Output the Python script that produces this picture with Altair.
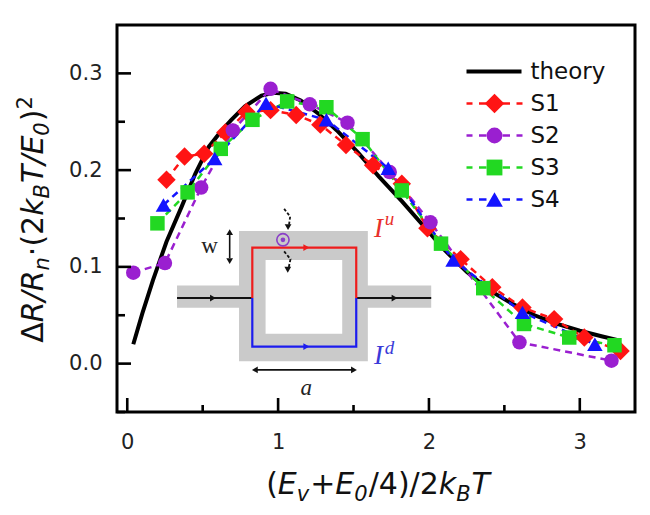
import altair as alt
import pandas as pd

# ---------------- data ----------------
theory_x = [0.04, 0.10, 0.17, 0.26, 0.36, 0.45, 0.54, 0.62, 0.69, 0.78, 0.89, 0.97, 1.05, 1.15,
            1.27, 1.39, 1.53, 1.67, 1.82, 1.96, 2.10, 2.25, 2.40, 2.55, 2.70, 2.85, 3.00, 3.15, 3.26]
theory_y = [0.020, 0.052, 0.086, 0.126, 0.162, 0.196, 0.224, 0.240, 0.252, 0.266, 0.277, 0.280, 0.279, 0.272,
            0.258, 0.241, 0.218, 0.193, 0.168, 0.143, 0.118, 0.095, 0.076, 0.062, 0.050, 0.041, 0.034, 0.028, 0.024]

s1_x = [0.26, 0.38, 0.51, 0.65, 0.79, 0.95, 1.12, 1.28, 1.45, 1.63, 1.82, 1.99, 2.21, 2.42, 2.62, 2.83, 3.03, 3.27]
s1_y = [0.190, 0.214, 0.217, 0.239, 0.260, 0.262, 0.257, 0.247, 0.226, 0.205, 0.186, 0.140, 0.108, 0.079, 0.058, 0.046, 0.027, 0.013]

s2_x = [0.04, 0.25, 0.49, 0.70, 0.95, 1.21, 1.46, 1.74, 2.01, 2.60, 3.21]
s2_y = [0.094, 0.104, 0.182, 0.241, 0.284, 0.268, 0.249, 0.198, 0.146, 0.022, 0.003]

s3_x = [0.20, 0.40, 0.62, 0.83, 1.06, 1.32, 1.56, 1.82, 2.08, 2.36, 2.63, 2.93, 3.23]
s3_y = [0.145, 0.177, 0.222, 0.252, 0.271, 0.265, 0.232, 0.179, 0.124, 0.078, 0.041, 0.027, 0.019]

s4_x = [0.24, 0.58, 0.92, 1.32, 1.73, 2.16, 2.62, 3.10]
s4_y = [0.164, 0.212, 0.269, 0.252, 0.202, 0.107, 0.053, 0.020]

series_names = ["theory", "S1", "S2", "S3", "S4"]
series_colors = ["#000000", "#ff1414", "#9a1fd0", "#22d822", "#1414ff"]
marker_shapes = ["diamond", "circle", "square", "triangle-up"]
marker_sizes = [340, 210, 210, 240]

x_ticks_major = [0, 1, 2, 3]
x_ticks_minor = [0.5, 1.5, 2.5]
y_ticks_major = [0.0, 0.1, 0.2, 0.3]
y_ticks_minor = [-0.05, 0.05, 0.15, 0.25]

# inset sketch (in data units of the main axes)
inset_band = [0.330, 2.015, 0.0577, 0.0807]
inset_outer = [0.741, 1.595, 0.0024, 0.137]
inset_inner = [0.917, 1.425, 0.031, 0.107]
red_path_x = [0.829, 0.829, 1.518, 1.518]
red_path_y = [0.0678, 0.120, 0.120, 0.0678]
blue_path_x = [0.829, 0.829, 1.518, 1.518]
blue_path_y = [0.0678, 0.0176, 0.0176, 0.0678]
lead_left_x = [0.330, 0.829]
lead_right_x = [1.518, 2.015]
lead_y = 0.0678

# ---------------- frames ----------------
W_PLOT, H_PLOT = 518, 387
xs = alt.Scale(domain=[-0.068, 3.366], nice=False, zero=False)
ys = alt.Scale(domain=[-0.05, 0.35], nice=False, zero=False)
cs = alt.Scale(domain=series_names, range=series_colors)

theory_df = pd.DataFrame({"x": theory_x, "y": theory_y, "series": "theory"})
rows = []
for i, (name, xv, yv) in enumerate([("S1", s1_x, s1_y), ("S2", s2_x, s2_y), ("S3", s3_x, s3_y), ("S4", s4_x, s4_y)]):
    for a, b in zip(xv, yv):
        rows.append({"x": a, "y": b, "series": name, "shp": marker_shapes[i], "sz": marker_sizes[i]})
s_df = pd.DataFrame(rows)

X = alt.X("x:Q", scale=xs, axis=alt.Axis(values=x_ticks_major, format="d", title=None, labelPadding=19))
Y = alt.Y("y:Q", scale=ys, axis=alt.Axis(values=y_ticks_major, format=".1f", title=None, labelPadding=15))

theory_layer = alt.Chart(theory_df).mark_line(strokeWidth=4, strokeCap="butt").encode(
    x=X, y=Y, color=alt.Color("series:N", scale=cs, legend=None)
)

s_lines = alt.Chart(s_df).mark_line(strokeWidth=2.5, strokeDash=[7, 5]).encode(
    x=alt.X("x:Q", scale=xs), y=alt.Y("y:Q", scale=ys),
    color=alt.Color("series:N", scale=cs, legend=None), detail="series:N"
)

s_points = alt.Chart(s_df).mark_point(filled=True, opacity=1, strokeWidth=0).encode(
    x=alt.X("x:Q", scale=xs), y=alt.Y("y:Q", scale=ys),
    color=alt.Color("series:N", scale=cs, legend=None),
    shape=alt.Shape("shp:N", scale=None),
    size=alt.Size("sz:Q", scale=None),
)

# ---------------- legend (drawn as a small key block, pixel layout) ----------------
LEG_X0, LEG_X1, LEG_XC, LEG_LABEL_X = 349.5, 405.5, 377.5, 413.5
LEG_Y0, LEG_DY = 46.5, 32.0
seg_rows, mk_rows, lab_rows = [], [], []
for i, name in enumerate(series_names):
    yy = LEG_Y0 + i * LEG_DY
    lab_rows.append({"series": name, "px": LEG_LABEL_X, "py": yy})
    if name == "theory":
        seg_rows.append({"series": name, "px": LEG_X0, "px2": LEG_X1 - 1, "py": yy, "sw": 3.8})
    else:
        for a, b in [(LEG_X0, LEG_X0 + 6), (LEG_XC - 15.5, LEG_XC - 8),
                     (LEG_XC + 8, LEG_XC + 15.5), (LEG_X1 - 6, LEG_X1)]:
            seg_rows.append({"series": name, "px": a, "px2": b, "py": yy, "sw": 2.5})
        mk_rows.append({"series": name, "px": LEG_XC, "py": yy,
                        "shp": marker_shapes[i - 1], "sz": marker_sizes[i - 1] + 40})
leg_seg = alt.Chart(pd.DataFrame(seg_rows)).mark_rule(strokeCap="butt").encode(
    x=alt.X("px:Q", scale=None, axis=None), x2="px2:Q", y=alt.Y("py:Q", scale=None, axis=None),
    color=alt.Color("series:N", scale=cs, legend=None),
    strokeWidth=alt.StrokeWidth("sw:Q", scale=None, legend=None))
leg_mk = alt.Chart(pd.DataFrame(mk_rows)).mark_point(filled=True, opacity=1, strokeWidth=0).encode(
    x=alt.X("px:Q", scale=None, axis=None), y=alt.Y("py:Q", scale=None, axis=None),
    color=alt.Color("series:N", scale=cs, legend=None),
    shape=alt.Shape("shp:N", scale=None), size=alt.Size("sz:Q", scale=None))
leg_lab = alt.Chart(pd.DataFrame(lab_rows)).mark_text(
    align="left", baseline="middle", font="DejaVu Sans", fontSize=23, color="#111111").encode(
    x=alt.X("px:Q", scale=None, axis=None), y=alt.Y("py:Q", scale=None, axis=None), text="series:N")

# ---------------- inset ----------------
def rect(b, fill):
    d = pd.DataFrame({"x": [b[0]], "x2": [b[1]], "y": [b[2]], "y2": [b[3]]})
    return alt.Chart(d).mark_rect(color=fill).encode(
        x=alt.X("x:Q", scale=xs), x2="x2:Q", y=alt.Y("y:Q", scale=ys), y2="y2:Q")


gray = "#cacaca"
inset = [rect(inset_band, gray), rect(inset_outer, gray), rect(inset_inner, "white")]


def path(xv, yv, color, width=2.2, dash=None):
    d = pd.DataFrame({"x": xv, "y": yv, "o": list(range(len(xv)))})
    kw = dict(color=color, strokeWidth=width)
    if dash:
        kw["strokeDash"] = dash
    return alt.Chart(d).mark_line(**kw).encode(
        x=alt.X("x:Q", scale=xs), y=alt.Y("y:Q", scale=ys), order="o:Q")


inset += [
    path(lead_left_x, [lead_y, lead_y], "#111111", 2.0),
    path(lead_right_x, [lead_y, lead_y], "#111111", 2.0),
    path(red_path_x, red_path_y, "#ee1c1c", 2.2),
    path(blue_path_x, blue_path_y, "#1c1cee", 2.2),
    path([0.679, 0.679], [0.109, 0.133], "#111111", 1.6),
    path([0.850, 1.500], [-0.0065, -0.0065], "#111111", 1.6),
    path([1.040, 1.080, 1.072], [0.160, 0.152, 0.143], "#111111", 1.8, [3, 2]),
    path([1.040, 1.082, 1.070], [0.116, 0.108, 0.099], "#111111", 1.8, [3, 2]),
]

heads = pd.DataFrame({
    "x": [0.568, 1.772, 1.187, 1.187, 0.679, 0.679, 0.846, 1.503, 1.066, 1.064],
    "y": [lead_y, lead_y, 0.120, 0.0176, 0.136, 0.106, -0.0065, -0.0065, 0.141, 0.097],
    "shape": ["triangle-right", "triangle-right", "triangle-right", "triangle-right",
              "triangle-up", "triangle-down", "triangle-left", "triangle-right",
              "triangle-down", "triangle-down"],
    "c": ["#111111", "#111111", "#ee1c1c", "#1c1cee", "#111111", "#111111", "#111111", "#111111",
          "#111111", "#111111"],
})
inset.append(alt.Chart(heads).mark_point(filled=True, opacity=1, size=45, strokeWidth=0).encode(
    x=alt.X("x:Q", scale=xs), y=alt.Y("y:Q", scale=ys),
    shape=alt.Shape("shape:N", scale=None), color=alt.Color("c:N", scale=None)))

dot = pd.DataFrame({"x": [1.032], "y": [0.128]})
inset.append(alt.Chart(dot).mark_point(shape="circle", size=150, filled=False, color="#8a3fc8",
                                       strokeWidth=1.6, opacity=1).encode(
    x=alt.X("x:Q", scale=xs), y=alt.Y("y:Q", scale=ys)))
inset.append(alt.Chart(dot).mark_point(shape="circle", size=22, filled=True, color="#8a3fc8",
                                       opacity=1).encode(
    x=alt.X("x:Q", scale=xs), y=alt.Y("y:Q", scale=ys)))


def label(x, y, t, size, color, italic=True):
    d = pd.DataFrame({"x": [x], "y": [y], "t": [t]})
    return alt.Chart(d).mark_text(font="Liberation Serif", fontSize=size, color=color,
                                  fontStyle="italic" if italic else "normal").encode(
        x=alt.X("x:Q", scale=xs), y=alt.Y("y:Q", scale=ys), text="t:N")


inset += [
    label(0.546, 0.122, "w", 23, "#222222", italic=False),
    label(1.187, -0.025, "a", 23, "#222222"),
    label(1.666, 0.139, "I", 27, "#e8302c"),
    label(1.738, 0.149, "u", 19, "#e8302c"),
    label(1.666, 0.0075, "I", 27, "#3a3ad8"),
    label(1.738, 0.0165, "d", 19, "#3a3ad8"),
]

# ---------------- axis titles built from pieces (mixed italic / subscripts) ----------------
GW = {"(": .390, ")": .390, "+": .838, "/": .337, "0": .636, "2": .636, "4": .636, "E": .632,
      "B": .686, "R": .695, "T": .611, "k": .579, "n": .634, "v": .592, "Δ": .684, "·": .318}
F_MAIN, F_SUB = 30, 21


def layout(pieces, start, direction):
    out = []
    pos = start
    for txt, ital, kind in pieces:
        size = F_MAIN if kind == "m" else F_SUB
        out.append({"t": txt, "it": ital, "kind": kind, "size": size, "pos": pos})
        pos += direction * (sum(GW[c] for c in txt) * size + (1.0 if kind != "m" else 0.0))
    return out


def total(pieces):
    return sum(sum(GW[c] for c in t) * (F_MAIN if k == "m" else F_SUB) + (1.0 if k != "m" else 0.0)
               for t, _, k in pieces)


x_pieces = [("(", 0, "m"), ("E", 1, "m"), ("v", 1, "s"), ("+", 0, "m"), ("E", 1, "m"), ("0", 1, "s"),
            ("/4)/2", 0, "m"), ("k", 1, "m"), ("B", 1, "s"), ("T", 1, "m")]
y_pieces = [("Δ", 0, "m"), ("R", 1, "m"), ("/", 1, "m"), ("R", 1, "m"), ("n", 1, "s"), ("·(2", 0, "m"),
            ("k", 1, "m"), ("B", 1, "s"), ("T", 1, "m"), ("/", 1, "m"), ("E", 1, "m"), ("0", 1, "s"),
            (")", 0, "m"), ("2", 0, "p")]

xt = pd.DataFrame(layout(x_pieces, 261 - total(x_pieces) / 2, 1))
xt["px"] = xt["pos"]
xt["py"] = xt["kind"].map({"m": 469, "s": 476, "p": 459})
yt = pd.DataFrame(layout(y_pieces, 194 + total(y_pieces) / 2, -1))
yt["py"] = yt["pos"]
yt["px"] = yt["kind"].map({"m": -74, "s": -68, "p": -85})


def title_layer(df, italic, angle):
    d = df[df["it"] == (1 if italic else 0)]
    kw = dict(font="DejaVu Sans", align="left", baseline="alphabetic", color="#111111",
              fontStyle="italic" if italic else "normal")
    if angle:
        kw["angle"] = angle
    return alt.Chart(d).mark_text(**kw).encode(
        x=alt.X("px:Q", scale=None, axis=None), y=alt.Y("py:Q", scale=None, axis=None),
        size=alt.Size("size:Q", scale=None, legend=None), text="t:N")


titles = [title_layer(xt, False, 0), title_layer(xt, True, 0),
          title_layer(yt, False, 270), title_layer(yt, True, 270)]

# ---------------- inward ticks ----------------
def yticks(vals, length):
    return alt.Chart(pd.DataFrame({"v": vals})).mark_rule(color="black", strokeWidth=2.6).encode(
        y=alt.Y("v:Q", scale=ys), x=alt.value(0), x2=alt.value(length))


def xticks(vals, length):
    return alt.Chart(pd.DataFrame({"v": vals})).mark_rule(color="black", strokeWidth=2.6).encode(
        x=alt.X("v:Q", scale=xs), y=alt.value(H_PLOT), y2=alt.value(H_PLOT - length))


ticks = [yticks(y_ticks_major, 14), yticks(y_ticks_minor, 8), xticks(x_ticks_major, 14), xticks(x_ticks_minor, 7)]

chart = alt.layer(
    theory_layer, *inset, s_lines, s_points, *ticks, *titles, leg_seg, leg_mk, leg_lab
).properties(
    width=W_PLOT, height=H_PLOT,
    autosize=alt.AutoSizeParams(type="none"),
    padding={"left": 109, "top": 17, "right": 7, "bottom": 94},
    background="white",
).configure_view(
    stroke="black", strokeWidth=3
).configure_axis(
    domain=False, ticks=False, tickSize=0, grid=False,
    labelFont="DejaVu Sans", labelFontSize=21, labelColor="#222222"
)

chart.save("out.html", embed_options={"renderer": "svg", "actions": False})
